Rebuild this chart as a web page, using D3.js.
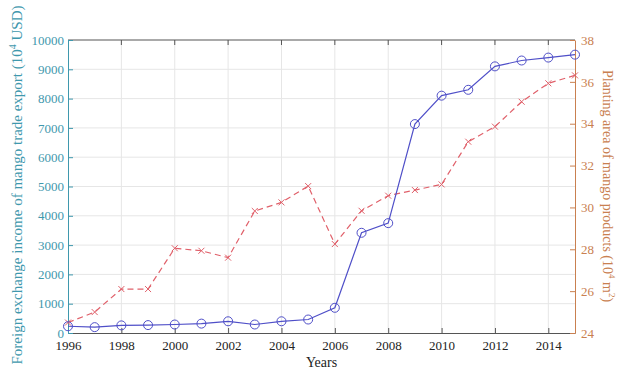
<!DOCTYPE html>
<html><head><meta charset="utf-8">
<script src="https://cdn.jsdelivr.net/npm/d3@7"></script>
<style>body{margin:0;background:#fff}svg{display:block}</style>
</head><body><svg id="c" width="619" height="369"></svg>
<script>
const years = [1996,1997,1998,1999,2000,2001,2002,2003,2004,2005,2006,2007,2008,2009,2010,2011,2012,2013,2014,2015];
const exportIncome = [230,200,260,270,290,320,400,290,400,460,860,3420,3750,7130,8100,8300,9100,9300,9400,9500];
const plantingArea = [24.5,25.0,26.1,26.1,28.05,27.93,27.6,29.83,30.24,31.02,28.25,29.84,30.56,30.83,31.1,33.14,33.86,35.05,35.93,36.31];
const xTicks = [1996,1998,2000,2002,2004,2006,2008,2010,2012,2014];
const leftTicks = [0,1000,2000,3000,4000,5000,6000,7000,8000,9000,10000];
const rightTicks = [24,26,28,30,32,34,36,38];

const svg = d3.select("#c");
const L=68, R=575, T=40, B=333;
const font = "'Liberation Serif', 'Times New Roman', serif";
const teal = "#3f98ad", orange = "#c98050", blue = "#4f4fc8", red = "#e0606a";

const x = d3.scaleLinear().domain([1996,2015]).range([L,R]);
const yL = d3.scaleLinear().domain([0,10000]).range([B,T]);
const yR = d3.scaleLinear().domain([24,38]).range([B,T]);

// grid
const g = svg.append("g");
g.selectAll(".vg").data(xTicks.slice(1)).join("line")
  .attr("x1",d=>x(d)).attr("x2",d=>x(d)).attr("y1",T).attr("y2",B)
  .attr("stroke","#e6e6e6").attr("stroke-width",1);
g.selectAll(".hg").data(leftTicks.slice(1,-1)).join("line")
  .attr("x1",L).attr("x2",R).attr("y1",d=>yL(d)).attr("y2",d=>yL(d))
  .attr("stroke","#e6e6e6").attr("stroke-width",1);

// frame top
svg.append("line").attr("x1",L).attr("x2",R).attr("y1",T).attr("y2",T).attr("stroke","#555");
svg.selectAll(".tt").data(xTicks.slice(1)).join("line")
  .attr("x1",d=>x(d)).attr("x2",d=>x(d)).attr("y1",T).attr("y2",T+5).attr("stroke","#555");

// bottom axis
const xa = svg.append("g").attr("transform",`translate(0,${B})`)
  .call(d3.axisBottom(x).tickValues(xTicks).tickFormat(d3.format("d")).tickSizeInner(-5).tickSizeOuter(0).tickPadding(8));
xa.attr("font-family",font);
xa.select(".domain").attr("stroke","#555");
xa.selectAll(".tick line").attr("stroke","#555");
xa.selectAll("text").attr("font-family",font).attr("font-size",13).attr("fill","#222");

// left axis
const la = svg.append("g").attr("transform",`translate(${L},0)`)
  .call(d3.axisLeft(yL).tickValues(leftTicks).tickFormat(d3.format("d")).tickSizeInner(-5).tickSizeOuter(0).tickPadding(4));
la.attr("font-family",font);
la.select(".domain").attr("stroke",teal);
la.selectAll(".tick line").attr("stroke",teal);
la.selectAll("text").attr("font-family",font).attr("font-size",13).attr("fill",teal);

// right axis
const ra = svg.append("g").attr("transform",`translate(${R},0)`)
  .call(d3.axisRight(yR).tickValues(rightTicks).tickSizeInner(-5).tickSizeOuter(0).tickPadding(6));
ra.attr("font-family",font);
ra.select(".domain").attr("stroke",orange);
ra.selectAll(".tick line").attr("stroke",orange);
ra.selectAll("text").attr("font-family",font).attr("font-size",13).attr("fill",orange);

// titles
svg.append("text").attr("x",(L+R)/2).attr("y",367).attr("text-anchor","middle")
  .attr("font-family",font).attr("font-size",14).attr("fill","#222").text("Years");
const lt = svg.append("text").attr("transform",`translate(22,185) rotate(-90)`).attr("text-anchor","middle")
  .attr("font-family",font).attr("font-size",15).attr("fill",teal);
lt.append("tspan").text("Foreign exchange income of mango trade export (10");
lt.append("tspan").attr("font-size",10).attr("dy",-6).text("4");
lt.append("tspan").attr("dy",6).text(" USD)");
const rt = svg.append("text").attr("transform",`translate(603,186) rotate(90)`).attr("text-anchor","middle")
  .attr("font-family",font).attr("font-size",14).attr("fill",orange);
rt.append("tspan").text("Planting area of mango products (10");
rt.append("tspan").attr("font-size",9).attr("dy",-6).text("4");
rt.append("tspan").attr("dy",6).text(" m");
rt.append("tspan").attr("font-size",9).attr("dy",-6).text("2");
rt.append("tspan").attr("dy",6).text(")");

// red dashed series
const redData = years.map((y,i)=>[y,plantingArea[i]]);
svg.append("path").datum(redData)
  .attr("d",d3.line().x(d=>x(d[0])).y(d=>yR(d[1])))
  .attr("fill","none").attr("stroke",red).attr("stroke-width",1.2).attr("stroke-dasharray","6,4");
svg.selectAll(".xm").data(redData).join("path")
  .attr("transform",d=>`translate(${x(d[0])},${yR(d[1])})`)
  .attr("d","M-3,-3L3,3M-3,3L3,-3").attr("stroke",red).attr("stroke-width",1);

// blue solid series
const blueData = years.map((y,i)=>[y,exportIncome[i]]);
svg.append("path").datum(blueData)
  .attr("d",d3.line().x(d=>x(d[0])).y(d=>yL(d[1])))
  .attr("fill","none").attr("stroke",blue).attr("stroke-width",1.2);
svg.selectAll(".cm").data(blueData).join("circle")
  .attr("cx",d=>x(d[0])).attr("cy",d=>yL(d[1])).attr("r",4.5)
  .attr("fill","none").attr("stroke",blue).attr("stroke-width",1);
</script></body></html>
